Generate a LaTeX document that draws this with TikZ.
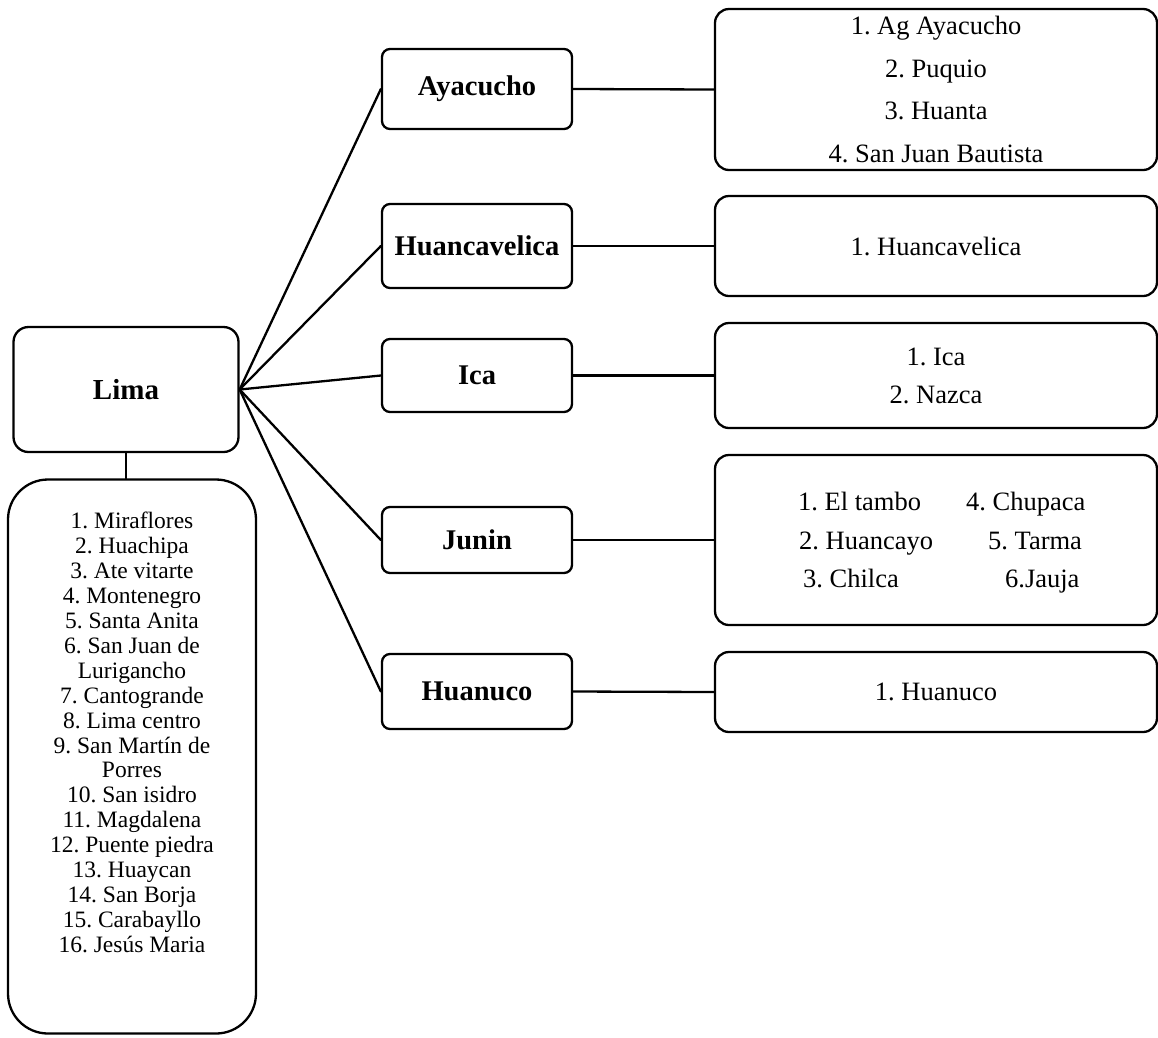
\documentclass[tikz,border=0pt]{standalone}
\usepackage{fontspec}
\setmainfont{Liberation Serif}
\frenchspacing
\begin{document}
\begin{tikzpicture}[x=1pt, y=-1pt, line width=2.3pt,
  every node/.style={inner sep=0pt},
  box/.style={draw, rounded corners=#1},
  box/.default=8pt,
  region/.style={box=8pt, minimum width=190pt, font=\bfseries\fontsize{28.5}{34}\selectfont},
  towns/.style={box=14pt, minimum width=442pt, align=center, font=\fontsize{26.5}{#1}\selectfont},
  towns/.default=42pt,
  item/.style={anchor=base west, font=\fontsize{26.5}{32}\selectfont},
  link/.style={line cap=round}]
\useasboundingbox (0,0) rectangle (1158,1037);

% capital and its districts
\node[box=15pt, minimum width=225pt, minimum height=125pt,
      font=\bfseries\fontsize{29}{34}\selectfont] (lima) at (126,389.5) {Lima};
\node[box=40pt, minimum width=248pt, minimum height=554pt] (limalist) at (132,756.5) {};
\node[align=center, font=\fontsize{23.5}{24.9}\selectfont] (limatext) at (132,732.5)
  {1. Miraflores\\2. Huachipa\\3. Ate vitarte\\4. Montenegro\\5. Santa Anita\\
   6. San Juan de\\Lurigancho\\7. Cantogrande\\8. Lima centro\\9. San Martín de\\
   Porres\\10. San isidro\\11. Magdalena\\12. Puente piedra\\13. Huaycan\\
   14. San Borja\\15. Carabayllo\\16. Jesús Maria};

% regions
\node[region, minimum height=80pt] (aya) at (477,89) {Ayacucho};
\node[region, minimum height=84pt] (hvc) at (477,246) {Huancavelica};
\node[region, minimum height=73pt] (ica) at (477,375.5) {Ica};
\node[region, minimum height=66pt] (jun) at (477,540) {Junin};
\node[region, minimum height=75pt] (hnc) at (477,691.5) {Huanuco};

% towns of each region
\node[towns=42.7pt, minimum height=161pt] (ayal) at (936,89.5)
  {1. Ag Ayacucho\\2. Puquio\\3. Huanta\\4. San Juan Bautista};
\node[towns, minimum height=100pt] (hvcl) at (936,246) {1. Huancavelica};
\node[towns=38pt, minimum height=105pt] (ical) at (936,375.5) {1. Ica\\2. Nazca};
\node[towns, minimum height=170pt] (junl) at (936,540) {};
\node[towns, minimum height=80pt] (hncl) at (936,692) {1. Huanuco};

\node[item] (j1) at (797,510) {1. El tambo};
\node[item] (j2) at (798,549) {2. Huancayo};
\node[item] (j3) at (802,587) {3. Chilca};
\node[item] (j4) at (965,510) {4. Chupaca};
\node[item] (j5) at (987,549) {5. Tarma};
\node[item] (j6) at (1004,587) {6.Jauja};

% connectors
\draw[link] (lima.south) -- (lima.south |- limalist.north);
\foreach \r in {aya,hvc,ica,jun,hnc}
  \draw[link] (lima.east) -- (\r.west);
\foreach \r/\l in {aya/ayal,hvc/hvcl,ica/ical,jun/junl,hnc/hncl}
  \draw (\r.east) -- (\l.west);
\end{tikzpicture}
\end{document}
